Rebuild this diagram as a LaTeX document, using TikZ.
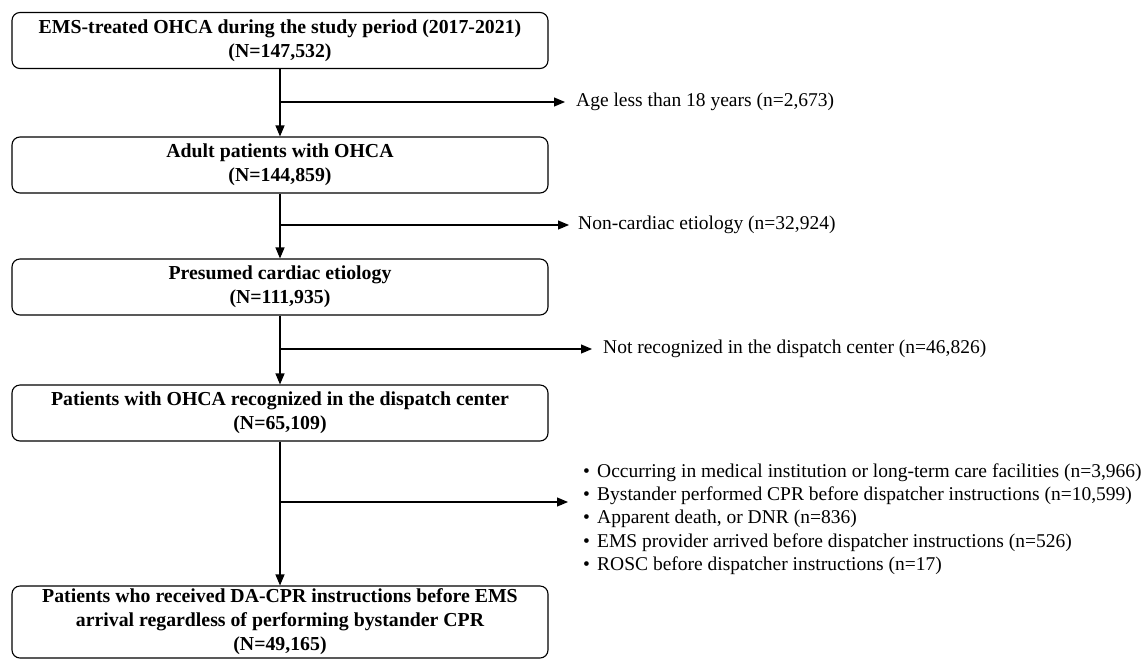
\documentclass[tikz,border=0pt]{standalone}
\usepackage{fontspec}
\setmainfont{Liberation Serif}
\usetikzlibrary{arrows.meta,positioning}
\newcommand{\bitem}{\makebox[14pt][l]{\textbullet}}

\begin{document}
\begin{tikzpicture}[x=1pt,y=-1pt,>={Triangle[length=11pt,width=9pt]},
 box/.style={draw,line width=1.1pt,rounded corners=8pt,minimum width=536pt,
  minimum height=56pt,align=center,inner sep=2pt,
  font=\fontsize{19.8}{24}\selectfont\bfseries},
 excl/.style={anchor=west,align=left,inner sep=0pt,
  font=\fontsize{19.5}{23.2}\selectfont},
 flow/.style={line width=1.1pt}]
 \useasboundingbox (0,0) rectangle (1147,659);
 % main boxes
 \node[box] (b1) at (280,40.5) {EMS-treated OHCA during the study period (2017-2021)\\(N=147,532)};
 \node[box] (b2) at (280,165) {Adult patients with OHCA\\(N=144,859)};
 \node[box] (b3) at (280,287) {Presumed cardiac etiology\\(N=111,935)};
 \node[box] (b4) at (280,413) {Patients with OHCA recognized in the dispatch center\\(N=65,109)};
 \node[box,minimum height=72pt] (b5) at (280,622) {Patients who received DA-CPR instructions before EMS\\arrival regardless of performing bystander CPR\\(N=49,165)};
 % exclusions
 \coordinate (j1) at (280,102);
 \coordinate (j2) at (280,225);
 \coordinate (j3) at (280,349);
 \coordinate (j4) at (280,502);
 \node[excl] (e1) at (576,102) {Age less than 18 years (n=2,673)};
 \node[excl] (e2) at (578,225) {Non-cardiac etiology (n=32,924)};
 \node[excl] (e3) at (603,349) {Not recognized in the dispatch center (n=46,826)};
 \node[excl] (e4) at (583,519) {\bitem Occurring in medical institution or long-term care facilities (n=3,966)\\
  \bitem Bystander performed CPR before dispatcher instructions (n=10,599)\\
  \bitem Apparent death, or DNR (n=836)\\
  \bitem EMS provider arrived before dispatcher instructions (n=526)\\
  \bitem ROSC before dispatcher instructions (n=17)};
 % connectors
 \draw[flow,->] (b1) -- (b2);
 \draw[flow,->] (b2) -- (b3);
 \draw[flow,->] (b3) -- (b4);
 \draw[flow,->] (b4) -- (b5);
 \draw[flow,->] (j1) -- ([xshift=-11pt]e1.west);
 \draw[flow,->] (j2) -- ([xshift=-9pt]e2.west);
 \draw[flow,->] (j3) -- ([xshift=-11pt]e3.west);
 \draw[flow,->] (j4) -- ([xshift=-15pt]e4.west |- j4);
\end{tikzpicture}
\end{document}
